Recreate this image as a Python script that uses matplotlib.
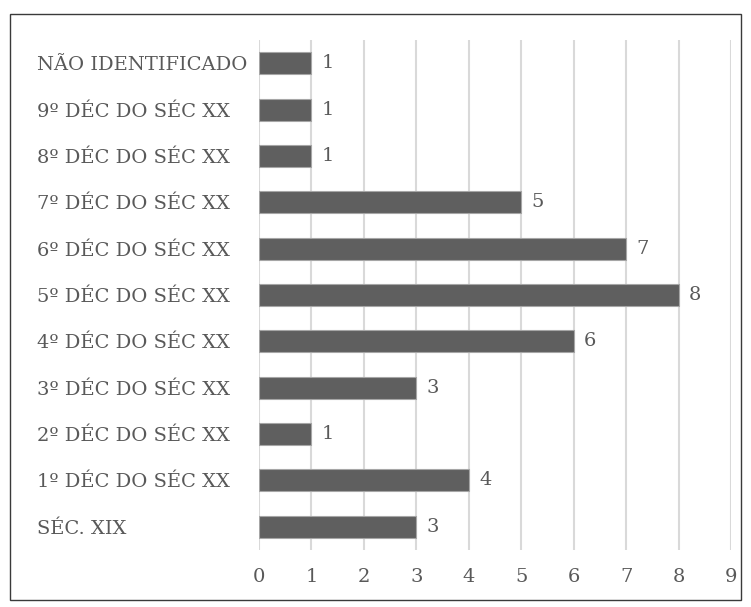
import matplotlib
matplotlib.use("Agg")
import matplotlib.pyplot as plt
from matplotlib.patches import Rectangle
from matplotlib.transforms import ScaledTranslation

categories = [
    "SÉC. XIX",
    "1º DÉC DO SÉC XX",
    "2º DÉC DO SÉC XX",
    "3º DÉC DO SÉC XX",
    "4º DÉC DO SÉC XX",
    "5º DÉC DO SÉC XX",
    "6º DÉC DO SÉC XX",
    "7º DÉC DO SÉC XX",
    "8º DÉC DO SÉC XX",
    "9º DÉC DO SÉC XX",
    "NÃO IDENTIFICADO",
]
values = [3, 4, 1, 3, 6, 8, 7, 5, 1, 1, 1]
x_ticks = [0, 1, 2, 3, 4, 5, 6, 7, 8, 9]

text_color = "#595959"
font = "DejaVu Serif"
fs = 14

fig = plt.figure(figsize=(7.51, 6.07), dpi=100)
W, H = 751, 607
ax = fig.add_axes([259 / W, 1 - 550 / H, (731 - 259) / W, (550 - 40) / H])

# outer frame
fig.patches.append(Rectangle((10 / W, 1 - 600 / H), (741 - 10) / W, (600 - 14) / H,
                             transform=fig.transFigure, fill=False,
                             edgecolor="#3a3a3a", linewidth=1.0))

y = list(range(len(categories)))
ax.barh(y, values, height=0.475, color="#5f5f5f", edgecolor="#a6a6a6",
        linewidth=0.8, zorder=3)

for yi, v in zip(y, values):
    ax.text(v + 0.2, yi, str(v), va="center", ha="left", fontsize=fs,
            color=text_color, family=font)

ax.set_xlim(0, 9)
ax.set_ylim(-0.5, len(categories) - 0.5)
ax.set_xticks(x_ticks)
ax.set_xticklabels([str(t) for t in x_ticks], fontsize=fs, color=text_color, family=font)
ax.set_yticks(y)
ax.set_yticklabels(categories, fontsize=fs, color=text_color, family=font)
ax.tick_params(axis="both", length=0)
ax.tick_params(axis="x", pad=13)
ax.yaxis.set_tick_params(pad=0)

# left-align category labels at a fixed margin
offset = ScaledTranslation(-(259 - 37) / 100, 0, fig.dpi_scale_trans)
for lbl in ax.get_yticklabels():
    lbl.set_horizontalalignment("left")
    lbl.set_transform(lbl.get_transform() + offset)

ax.grid(axis="x", color="#d9d9d9", linewidth=1.5, zorder=0)
ax.set_axisbelow(True)
for s in ax.spines.values():
    s.set_visible(False)

fig.savefig("out.png", dpi=100)
